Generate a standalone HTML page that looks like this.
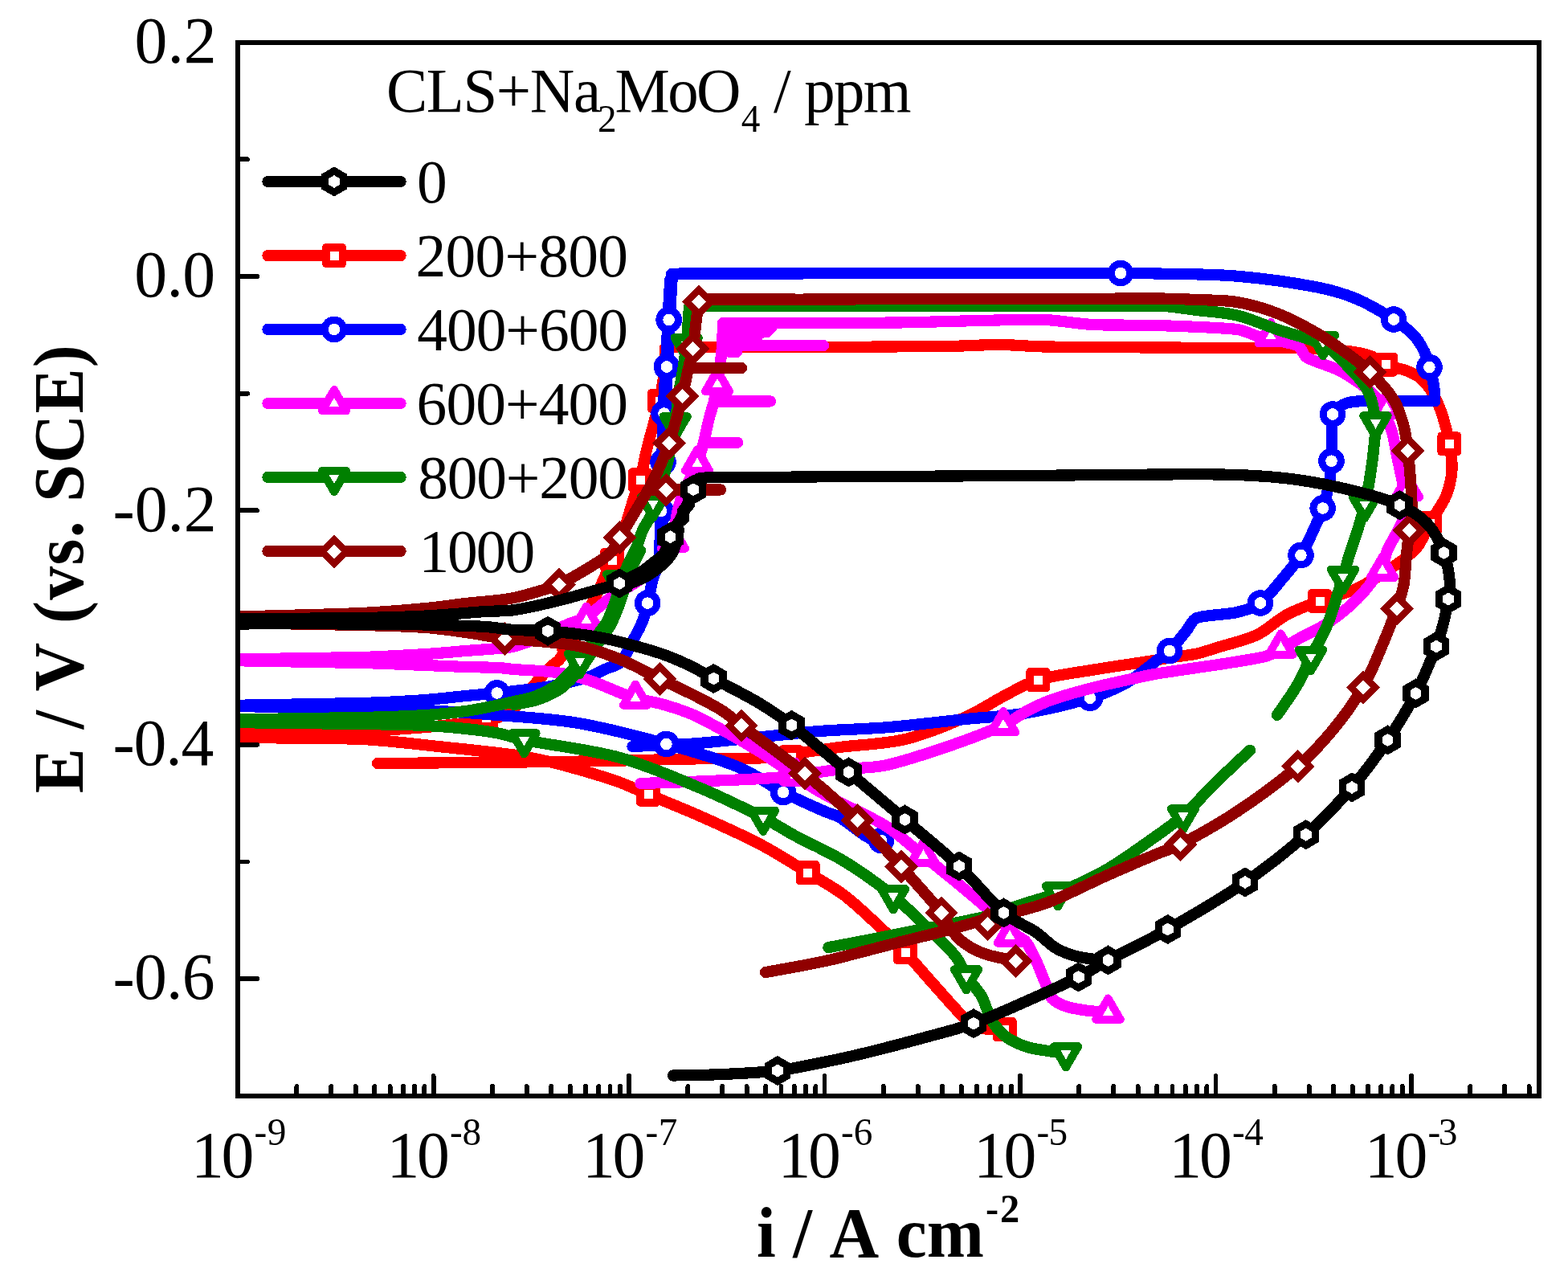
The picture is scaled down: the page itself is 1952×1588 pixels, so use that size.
<!DOCTYPE html>
<html lang="en">
<head>
<meta charset="utf-8">
<title>Polarization curves: CLS + Na2MoO4</title>
<style>
html,body{margin:0;padding:0;background:#fff;}
body{width:1952px;height:1588px;overflow:hidden;font-family:"Liberation Serif","DejaVu Serif",serif;}
svg{display:block;}
</style>
</head>
<body>
<svg width="1952" height="1588" viewBox="0 0 1952 1588" shape-rendering="crispEdges">
<rect width="1952" height="1588" fill="#fff"/>
<defs><clipPath id="pc"><rect x="296.1" y="52.7" width="1619.8" height="1311.1"/></clipPath></defs>
<g clip-path="url(#pc)" shape-rendering="crispEdges">
<path d="M280.0 912.5C336.7 911.7 408.3 911.2 450.0 910.0C476.7 909.2 507.5 906.8 530.0 905.0C548.4 903.5 570.0 901.0 585.0 899.0C596.7 897.4 610.5 896.2 620.0 893.0C628.1 890.3 635.7 885.7 642.0 880.0C649.8 872.9 659.2 859.0 666.6 850.5C673.0 843.1 681.5 834.1 686.6 829.0C689.8 825.8 694.3 823.7 697.0 820.0C701.7 813.5 709.5 799.2 715.0 790.0C720.0 781.7 725.4 773.3 730.0 765.0C734.5 756.8 738.8 747.5 742.5 740.0C745.7 733.4 749.0 726.7 752.0 720.0C755.2 712.8 758.7 703.7 762.0 697.0C764.9 691.1 769.6 686.1 772.0 680.0C775.0 672.2 777.2 660.0 780.0 650.0C782.8 640.0 786.2 628.8 789.0 620.0C791.5 612.4 794.9 605.2 797.0 597.5C799.7 587.5 802.3 571.2 805.0 560.0C807.4 549.9 810.4 540.0 813.0 530.0C815.7 519.8 818.8 509.0 821.0 499.0C823.1 489.4 824.8 479.0 826.0 470.0C827.1 461.7 827.7 451.2 828.0 445.0C828.2 441.0 828.0 437.0 828.0 433.0M828.0 433.0C830.0 432.6 832.0 431.9 834.0 431.9C862.7 431.7 944.7 432.0 1000.0 431.9C1057.7 431.8 1139.2 431.5 1180.0 431.0C1201.7 430.7 1225.0 428.9 1245.0 429.0C1263.4 429.1 1281.7 431.2 1300.0 431.5C1332.5 432.1 1393.3 432.3 1440.0 432.5C1490.0 432.8 1566.7 432.8 1600.0 433.0C1613.3 433.1 1626.7 433.1 1640.0 433.8C1653.3 434.5 1668.9 435.8 1680.0 437.3C1689.0 438.5 1699.0 440.1 1706.5 443.0C1713.3 445.6 1718.3 451.8 1725.0 454.6C1732.2 457.6 1742.5 458.1 1750.0 461.0C1757.1 463.7 1764.3 467.0 1770.0 472.0C1775.8 477.2 1780.9 484.7 1785.0 492.0C1789.3 499.7 1793.1 509.0 1796.0 518.0C1799.2 528.1 1802.6 541.3 1804.5 552.5C1806.3 563.2 1808.2 574.2 1807.5 585.0C1806.8 595.8 1804.3 607.2 1800.0 617.5C1795.4 628.5 1785.8 640.6 1780.0 651.0C1774.7 660.5 1771.3 671.8 1765.0 680.0C1758.8 688.0 1750.3 694.2 1742.0 700.0C1729.5 708.7 1706.5 724.0 1690.0 732.0C1675.1 739.2 1657.7 742.5 1643.0 748.0C1629.1 753.2 1615.0 758.0 1602.0 765.0C1589.0 772.0 1578.5 783.7 1565.0 790.0C1550.5 796.8 1527.5 802.1 1515.0 806.0C1506.7 808.6 1498.5 811.6 1490.0 813.5C1480.8 815.5 1470.0 816.4 1460.0 818.0C1450.0 819.6 1440.0 821.4 1430.0 823.0C1413.8 825.5 1385.3 829.6 1363.0 833.3C1340.1 837.1 1311.0 840.7 1292.5 846.0C1278.2 850.1 1265.3 858.2 1252.0 865.0C1236.9 872.8 1219.4 884.8 1202.0 892.5C1181.2 901.7 1152.9 913.8 1127.0 920.0C1100.8 926.2 1067.8 927.0 1045.0 930.0C1026.6 932.4 1004.2 935.8 990.0 938.0C980.0 939.5 970.1 942.4 960.0 943.0C942.2 944.0 908.7 943.5 883.0 944.0C839.7 944.8 761.0 947.1 700.0 948.0C631.2 949.0 546.7 949.3 470.0 950.0M280.0 918.0C336.7 918.7 404.2 918.0 450.0 920.0C485.1 921.5 526.7 927.2 555.0 930.0C576.7 932.2 603.3 935.0 620.0 937.0C631.7 938.4 643.4 939.8 655.0 942.0C668.3 944.5 685.2 948.0 700.0 952.0C718.7 957.0 749.2 965.9 767.0 972.0C780.7 976.7 793.7 983.1 807.0 988.7C824.2 995.9 849.2 1005.8 870.0 1015.0C893.0 1025.2 922.4 1038.2 945.0 1050.0C965.8 1060.9 987.9 1075.2 1005.7 1086.0C1021.3 1095.5 1037.6 1103.9 1052.0 1115.0C1068.0 1127.3 1089.5 1148.3 1102.0 1160.0C1110.6 1168.0 1119.0 1176.4 1127.0 1185.0C1137.4 1196.2 1152.0 1213.7 1164.5 1227.5C1176.8 1241.2 1191.9 1259.2 1202.0 1268.0C1208.5 1273.7 1216.9 1277.8 1225.0 1280.0C1233.1 1282.2 1242.1 1280.7 1250.7 1281.0" fill="none" stroke="#ff0000" stroke-width="14.2" stroke-linecap="round" stroke-linejoin="round"/>
<rect x="594.8" y="882.8" width="20.5" height="20.5" fill="#fff" stroke="#ff0000" stroke-linejoin="round" stroke-width="9.5"/>
<rect x="697.8" y="787.2" width="20.5" height="20.5" fill="#fff" stroke="#ff0000" stroke-linejoin="round" stroke-width="9.5"/>
<rect x="751.8" y="686.8" width="20.5" height="20.5" fill="#fff" stroke="#ff0000" stroke-linejoin="round" stroke-width="9.5"/>
<rect x="786.8" y="587.2" width="20.5" height="20.5" fill="#fff" stroke="#ff0000" stroke-linejoin="round" stroke-width="9.5"/>
<rect x="810.8" y="488.8" width="20.5" height="20.5" fill="#fff" stroke="#ff0000" stroke-linejoin="round" stroke-width="9.5"/>
<rect x="1714.8" y="443.4" width="20.5" height="20.5" fill="#fff" stroke="#ff0000" stroke-linejoin="round" stroke-width="9.5"/>
<rect x="1794.2" y="542.2" width="20.5" height="20.5" fill="#fff" stroke="#ff0000" stroke-linejoin="round" stroke-width="9.5"/>
<rect x="1769.8" y="640.8" width="20.5" height="20.5" fill="#fff" stroke="#ff0000" stroke-linejoin="round" stroke-width="9.5"/>
<rect x="1632.8" y="737.8" width="20.5" height="20.5" fill="#fff" stroke="#ff0000" stroke-linejoin="round" stroke-width="9.5"/>
<rect x="1282.2" y="835.8" width="20.5" height="20.5" fill="#fff" stroke="#ff0000" stroke-linejoin="round" stroke-width="9.5"/>
<rect x="974.8" y="931.8" width="20.5" height="20.5" fill="#fff" stroke="#ff0000" stroke-linejoin="round" stroke-width="9.5"/>
<rect x="796.8" y="978.5" width="20.5" height="20.5" fill="#fff" stroke="#ff0000" stroke-linejoin="round" stroke-width="9.5"/>
<rect x="995.5" y="1075.8" width="20.5" height="20.5" fill="#fff" stroke="#ff0000" stroke-linejoin="round" stroke-width="9.5"/>
<rect x="1116.8" y="1174.8" width="20.5" height="20.5" fill="#fff" stroke="#ff0000" stroke-linejoin="round" stroke-width="9.5"/>
<rect x="1240.5" y="1270.8" width="20.5" height="20.5" fill="#fff" stroke="#ff0000" stroke-linejoin="round" stroke-width="9.5"/>
<path d="M822.0 690.0C822.7 674.0 823.5 658.0 824.0 642.0C824.6 622.8 825.1 596.2 825.5 575.0C825.9 554.8 825.9 534.2 826.6 514.5C827.3 495.1 829.0 475.8 830.0 456.5C831.0 437.1 831.8 414.9 832.6 398.0C833.3 383.7 834.5 363.3 835.0 355.0C835.1 352.7 835.3 350.3 835.5 348.0" fill="none" stroke="#0000ff" stroke-width="16.5" stroke-linecap="round" stroke-linejoin="round"/>
<path d="M280.0 878.0C336.7 877.0 408.3 876.2 450.0 875.0C476.7 874.3 508.3 872.5 530.0 871.0C546.7 869.8 565.2 867.4 580.0 866.0C592.9 864.8 608.7 863.5 618.7 862.5C625.8 861.8 632.9 860.9 640.0 860.0C650.2 858.8 669.2 856.7 680.0 855.0C688.4 853.7 696.7 852.0 705.0 850.0C713.8 847.9 725.0 845.3 733.0 842.5C740.0 840.0 746.3 836.1 753.0 833.0C759.6 829.9 767.8 829.1 773.0 824.0C778.6 818.5 782.2 808.1 786.5 800.0C791.0 791.5 796.7 781.2 800.0 773.0C802.9 765.8 804.4 758.1 806.2 750.6C808.4 741.8 810.7 728.4 813.0 720.0C814.9 713.2 819.0 707.0 820.0 700.0C821.8 687.0 823.1 661.4 824.0 642.0C824.9 621.2 825.1 596.2 825.5 575.0C825.9 554.8 825.9 534.2 826.6 514.5C827.3 495.1 829.0 475.8 830.0 456.5C831.0 437.1 831.8 414.9 832.6 398.0C833.3 383.7 834.4 364.5 835.0 355.0C835.3 350.3 835.7 345.7 836.0 341.0M836.0 341.0C839.0 340.9 842.0 340.6 845.0 340.6C872.3 340.5 948.3 340.5 1000.0 340.4C1091.7 340.3 1321.7 340.0 1395.0 340.0C1410.0 340.0 1425.0 340.1 1440.0 340.5C1464.2 341.1 1506.8 340.9 1540.0 343.7C1573.3 346.5 1615.0 352.7 1640.0 357.5C1657.1 360.8 1674.2 365.8 1690.0 372.5C1705.8 379.2 1723.3 390.0 1735.0 397.5C1744.0 403.2 1753.7 410.7 1760.0 417.3C1765.5 423.1 1769.8 430.7 1773.0 437.3C1776.0 443.5 1777.6 450.3 1779.5 457.0C1781.5 464.1 1783.8 472.9 1785.0 480.0C1786.0 486.4 1785.9 492.9 1786.4 499.3M1786.4 499.3C1757.6 499.3 1716.1 499.3 1700.0 499.3C1696.7 499.3 1693.3 499.2 1690.0 499.5C1686.2 499.9 1680.9 500.2 1677.0 501.5C1673.2 502.7 1669.5 504.7 1666.5 507.0C1663.6 509.2 1660.0 511.6 1659.2 515.2C1657.8 521.5 1658.3 535.2 1658.0 545.0C1657.7 554.6 1658.0 564.5 1657.5 573.7C1657.0 582.5 1656.6 591.3 1655.0 600.0C1653.2 609.8 1650.0 622.5 1646.7 632.5C1643.5 642.0 1639.2 651.0 1635.0 660.0C1630.5 669.8 1625.8 681.3 1619.5 691.0C1612.8 701.3 1603.4 712.1 1595.0 722.0C1586.7 731.8 1578.2 743.8 1569.0 750.5C1560.6 756.6 1550.1 759.6 1540.0 762.0C1526.8 765.1 1500.5 765.2 1490.0 769.0C1483.5 771.4 1481.4 779.7 1477.0 785.0C1471.3 791.8 1462.2 803.8 1456.0 810.0C1451.3 814.7 1445.4 818.0 1440.0 822.0C1431.0 828.7 1415.7 842.3 1402.0 850.0C1388.2 857.8 1372.6 864.0 1357.0 868.7C1336.2 875.0 1302.8 883.1 1277.0 887.5C1252.2 891.7 1227.0 892.4 1202.0 895.0C1173.7 897.9 1137.3 902.5 1107.0 905.0C1078.1 907.4 1047.0 907.9 1020.0 910.0C994.9 911.9 970.0 915.0 945.0 917.5C920.0 920.0 889.2 923.4 870.0 925.0C856.7 926.1 843.3 926.4 830.0 927.0C816.2 927.7 801.7 928.3 787.5 929.0M280.0 879.0C336.7 879.7 408.3 880.2 450.0 881.0C476.7 881.5 503.4 882.6 530.0 884.0C558.3 885.5 590.0 887.5 620.0 890.0C651.7 892.7 687.0 894.3 720.0 900.0C754.9 906.0 796.2 916.8 829.5 926.0C860.0 934.4 895.8 945.0 920.0 955.0C939.5 963.0 957.2 976.8 975.0 986.0C992.0 994.7 1015.3 1004.8 1027.0 1010.0C1032.9 1012.6 1039.5 1013.7 1045.0 1017.0C1053.3 1022.0 1068.3 1034.5 1077.0 1040.0C1083.3 1044.0 1090.3 1046.7 1097.0 1050.0" fill="none" stroke="#0000ff" stroke-width="14.2" stroke-linecap="round" stroke-linejoin="round"/>
<circle cx="618.7" cy="862.5" r="11.8" fill="#fff" stroke="#0000ff" stroke-width="9"/>
<circle cx="806.2" cy="750.6" r="11.8" fill="#fff" stroke="#0000ff" stroke-width="9"/>
<circle cx="823.0" cy="636.0" r="11.8" fill="#fff" stroke="#0000ff" stroke-width="9"/>
<circle cx="825.5" cy="575.0" r="11.8" fill="#fff" stroke="#0000ff" stroke-width="9"/>
<circle cx="826.6" cy="514.5" r="11.8" fill="#fff" stroke="#0000ff" stroke-width="9"/>
<circle cx="830.0" cy="456.5" r="11.8" fill="#fff" stroke="#0000ff" stroke-width="9"/>
<circle cx="832.6" cy="398.0" r="11.8" fill="#fff" stroke="#0000ff" stroke-width="9"/>
<circle cx="1395.0" cy="340.0" r="11.8" fill="#fff" stroke="#0000ff" stroke-width="9"/>
<circle cx="1735.0" cy="397.5" r="11.8" fill="#fff" stroke="#0000ff" stroke-width="9"/>
<circle cx="1779.5" cy="457.0" r="11.8" fill="#fff" stroke="#0000ff" stroke-width="9"/>
<circle cx="1659.0" cy="515.5" r="11.8" fill="#fff" stroke="#0000ff" stroke-width="9"/>
<circle cx="1657.5" cy="573.7" r="11.8" fill="#fff" stroke="#0000ff" stroke-width="9"/>
<circle cx="1646.7" cy="632.5" r="11.8" fill="#fff" stroke="#0000ff" stroke-width="9"/>
<circle cx="1619.5" cy="691.0" r="11.8" fill="#fff" stroke="#0000ff" stroke-width="9"/>
<circle cx="1569.0" cy="750.5" r="11.8" fill="#fff" stroke="#0000ff" stroke-width="9"/>
<circle cx="1456.0" cy="810.0" r="11.8" fill="#fff" stroke="#0000ff" stroke-width="9"/>
<circle cx="1357.0" cy="868.7" r="11.8" fill="#fff" stroke="#0000ff" stroke-width="9"/>
<circle cx="829.5" cy="926.0" r="11.8" fill="#fff" stroke="#0000ff" stroke-width="9"/>
<circle cx="975.0" cy="986.0" r="11.8" fill="#fff" stroke="#0000ff" stroke-width="9"/>
<circle cx="1097.0" cy="1046.0" r="11.8" fill="#fff" stroke="#0000ff" stroke-width="9"/>
<path d="M280.0 820.5C336.7 819.7 408.3 819.1 450.0 818.0C476.7 817.3 508.3 815.3 530.0 814.0C546.7 813.0 565.0 811.2 580.0 810.0C593.3 809.0 610.0 807.9 620.0 807.0C626.7 806.4 633.5 806.3 640.0 804.5C650.0 801.7 668.9 794.6 680.0 790.0C689.1 786.2 698.3 780.7 706.6 777.0C714.2 773.6 722.9 772.4 730.0 768.0C738.9 762.5 749.5 751.3 760.0 744.0C770.5 736.7 785.2 729.2 793.0 724.0C797.8 720.8 802.3 717.0 806.5 713.0C813.2 706.8 827.8 693.8 833.0 686.6C836.4 681.9 836.8 675.6 838.0 670.0C839.3 663.9 839.8 656.6 841.0 650.0C842.2 643.3 843.2 636.6 845.0 630.0C846.8 623.3 849.2 616.5 852.0 610.0C855.8 601.2 864.0 587.0 868.0 577.0C871.5 568.3 873.6 559.1 876.0 550.0C878.5 540.5 880.8 528.5 883.0 520.0C884.8 512.9 887.3 505.9 889.0 499.0C890.6 492.2 891.9 485.4 893.0 478.5C894.3 470.3 896.0 458.1 897.0 450.0C897.8 443.4 898.6 436.7 899.0 430.0C899.5 422.0 899.7 411.3 900.0 402.0M876.0 550.8L918.0 550.8M889.0 499.4L959.0 499.4M899.0 430.0L1025.0 430.0M900.0 408.0L960.0 408.0L900.0 413.0L955.0 413.0L900.0 418.5L943.0 418.5L900.0 424.0L935.0 424.0L899.0 437.0L917.0 438.0M900.0 402.0C933.3 402.0 966.7 402.1 1000.0 402.0C1036.3 401.9 1081.3 402.0 1118.0 401.5C1152.0 401.0 1189.7 399.6 1220.0 399.0C1246.7 398.5 1276.7 397.2 1300.0 398.0C1320.1 398.7 1339.9 403.0 1360.0 404.0C1383.3 405.2 1413.3 404.1 1440.0 405.0C1470.0 406.0 1518.3 407.5 1540.0 410.0C1550.5 411.2 1559.8 417.3 1570.0 420.0C1582.5 423.3 1605.5 425.8 1615.0 430.0C1620.9 432.6 1621.5 441.7 1627.0 445.0C1635.3 450.0 1654.5 455.0 1665.0 460.0C1673.8 464.2 1682.2 469.2 1690.0 475.0C1698.3 481.2 1708.6 487.9 1715.0 497.0C1722.0 507.0 1727.8 522.5 1732.0 535.0C1736.0 547.0 1737.5 560.3 1740.0 572.0C1742.4 583.0 1745.2 596.2 1747.0 605.0C1748.4 611.7 1751.0 618.2 1751.0 625.0C1751.0 632.0 1749.8 640.1 1747.0 647.0C1743.0 657.0 1731.3 675.3 1727.0 685.0C1724.2 691.4 1724.7 699.1 1721.0 705.0C1714.8 715.0 1701.5 733.2 1690.0 745.0C1678.6 756.7 1663.7 768.0 1652.0 776.0C1642.0 782.8 1629.6 787.7 1620.0 793.0C1611.4 797.8 1602.0 804.0 1594.5 808.0C1588.2 811.4 1581.9 815.2 1575.0 817.0C1564.2 819.8 1544.2 822.7 1530.0 825.0C1516.7 827.2 1503.3 829.0 1490.0 831.0C1475.0 833.2 1452.2 836.5 1440.0 838.5C1432.1 839.8 1424.3 841.6 1416.5 843.3C1403.7 846.1 1380.7 850.8 1363.0 855.3C1345.2 859.8 1323.8 865.8 1310.0 870.6C1299.6 874.2 1289.7 878.9 1280.0 884.0C1269.8 889.3 1260.0 897.6 1249.0 902.5C1231.8 910.2 1201.3 921.7 1177.0 930.0C1152.5 938.3 1124.0 947.9 1102.0 952.5C1083.3 956.4 1064.0 955.3 1045.0 957.5C1023.0 960.0 995.1 965.3 970.0 967.5C940.8 970.0 898.8 971.2 870.0 972.5C845.8 973.6 821.7 974.2 797.5 975.0M280.0 822.0C336.7 823.0 408.3 824.0 450.0 825.0C476.7 825.6 508.3 827.2 530.0 828.0C546.7 828.6 565.0 829.5 580.0 830.0C593.3 830.4 610.0 830.5 620.0 831.0C626.7 831.3 633.3 832.5 640.0 833.0C652.2 834.0 677.5 834.8 693.0 837.0C706.6 839.0 719.9 842.3 733.0 846.5C746.3 850.8 763.3 858.8 773.0 862.5C778.9 864.8 784.8 867.3 791.0 869.0C799.9 871.4 814.9 873.6 826.5 877.0C839.0 880.7 853.5 884.9 866.0 891.0C885.8 900.7 919.3 919.3 945.0 935.0C970.6 950.7 994.1 969.7 1020.0 985.0C1046.2 1000.4 1080.4 1014.2 1102.0 1027.5C1119.2 1038.1 1133.7 1052.4 1149.5 1065.0C1166.2 1078.3 1187.0 1095.0 1202.0 1107.5C1214.7 1118.1 1229.5 1130.9 1239.5 1140.0C1247.3 1147.1 1255.8 1156.7 1262.0 1162.0C1266.6 1165.9 1273.2 1167.4 1277.0 1172.0C1281.6 1177.5 1285.8 1187.1 1289.5 1195.0C1293.7 1203.8 1298.7 1217.1 1302.0 1225.0C1304.5 1230.8 1305.3 1237.9 1309.5 1242.5C1313.7 1247.1 1320.7 1250.3 1327.0 1252.5C1334.1 1255.0 1343.6 1256.3 1352.0 1257.5C1360.8 1258.8 1370.3 1259.2 1379.5 1260.0" fill="none" stroke="#ff00ff" stroke-width="14.2" stroke-linecap="round" stroke-linejoin="round"/>
<polygon points="730.0,754.5 745.1,780.7 714.9,780.7" fill="#fff" stroke="#ff00ff" stroke-linejoin="round" stroke-width="10"/>
<polygon points="838.0,656.5 853.1,682.7 822.9,682.7" fill="#fff" stroke="#ff00ff" stroke-linejoin="round" stroke-width="10"/>
<polygon points="868.0,559.5 883.1,585.7 852.9,585.7" fill="#fff" stroke="#ff00ff" stroke-linejoin="round" stroke-width="10"/>
<polygon points="893.0,461.0 908.1,487.2 877.9,487.2" fill="#fff" stroke="#ff00ff" stroke-linejoin="round" stroke-width="10"/>
<polygon points="1582.0,401.0 1597.2,427.2 1566.8,427.2" fill="#fff" stroke="#ff00ff" stroke-linejoin="round" stroke-width="10"/>
<polygon points="1726.0,490.5 1741.2,516.7 1710.8,516.7" fill="#fff" stroke="#ff00ff" stroke-linejoin="round" stroke-width="10"/>
<polygon points="1752.0,592.5 1767.2,618.7 1736.8,618.7" fill="#fff" stroke="#ff00ff" stroke-linejoin="round" stroke-width="10"/>
<polygon points="1721.0,692.5 1736.2,718.7 1705.8,718.7" fill="#fff" stroke="#ff00ff" stroke-linejoin="round" stroke-width="10"/>
<polygon points="1594.5,788.5 1609.7,814.7 1579.3,814.7" fill="#fff" stroke="#ff00ff" stroke-linejoin="round" stroke-width="10"/>
<polygon points="1249.0,885.0 1264.2,911.2 1233.8,911.2" fill="#fff" stroke="#ff00ff" stroke-linejoin="round" stroke-width="10"/>
<polygon points="791.0,851.5 806.1,877.7 775.9,877.7" fill="#fff" stroke="#ff00ff" stroke-linejoin="round" stroke-width="10"/>
<polygon points="990.0,947.5 1005.1,973.7 974.9,973.7" fill="#fff" stroke="#ff00ff" stroke-linejoin="round" stroke-width="10"/>
<polygon points="1149.5,1047.5 1164.7,1073.7 1134.3,1073.7" fill="#fff" stroke="#ff00ff" stroke-linejoin="round" stroke-width="10"/>
<polygon points="1257.0,1147.5 1272.2,1173.7 1241.8,1173.7" fill="#fff" stroke="#ff00ff" stroke-linejoin="round" stroke-width="10"/>
<polygon points="1379.5,1242.5 1394.7,1268.7 1364.3,1268.7" fill="#fff" stroke="#ff00ff" stroke-linejoin="round" stroke-width="10"/>
<path d="M280.0 895.5C336.7 894.7 408.3 893.9 450.0 893.0C476.7 892.4 508.3 891.3 530.0 890.0C546.7 889.0 565.0 887.1 580.0 885.0C593.4 883.1 610.0 879.5 620.0 877.5C626.7 876.2 633.3 874.6 640.0 873.0C647.8 871.2 658.1 869.7 666.6 866.5C675.4 863.2 686.3 857.4 693.0 853.0C698.2 849.5 702.3 844.5 706.6 840.0C711.4 834.9 717.4 828.7 722.0 822.5C728.6 813.6 740.8 794.8 746.5 786.5C749.6 782.0 753.5 777.9 756.0 773.0C759.3 766.4 763.3 755.5 766.5 746.6C770.5 735.5 775.6 717.7 780.0 706.6C783.6 697.4 789.7 687.8 793.0 680.0C795.8 673.5 797.1 666.4 800.0 660.0C803.0 653.3 808.2 647.1 811.0 640.0C814.3 631.7 816.8 620.0 820.0 610.0C823.2 600.0 827.3 590.0 830.0 580.0C832.6 570.1 834.2 559.2 836.0 550.0C837.6 541.7 839.3 533.4 840.6 525.0C842.1 515.0 843.3 501.6 845.0 490.0C846.7 478.3 849.3 465.8 851.0 455.0C852.5 445.0 854.0 435.0 855.0 425.0C856.0 415.0 856.5 402.2 857.0 395.0C857.3 390.7 857.7 386.3 858.0 382.0M640.0 877.0C649.3 875.0 658.9 874.0 668.0 871.0C677.2 868.0 688.0 863.2 695.0 859.0C700.7 855.6 705.3 850.7 710.0 846.0C715.2 840.8 721.2 834.5 726.0 828.0C732.7 819.0 744.3 800.3 750.0 792.0C753.2 787.3 757.3 783.1 760.0 778.0C763.5 771.3 767.8 760.8 771.0 752.0C775.0 741.0 779.7 723.2 784.0 712.0C787.6 702.7 792.7 694.0 797.0 685.0M858.0 382.0C860.0 381.7 862.0 381.0 864.0 381.0C887.7 380.8 954.7 381.0 1000.0 381.0C1096.0 380.9 1358.3 379.7 1440.0 380.5C1456.8 380.7 1473.4 384.0 1490.0 386.0C1506.7 388.0 1523.7 388.6 1540.0 392.5C1556.7 396.5 1573.3 404.3 1590.0 410.0C1608.3 416.2 1635.5 422.5 1650.0 430.0C1660.9 435.6 1668.6 446.1 1677.0 455.0C1685.7 464.2 1696.2 473.8 1702.0 485.0C1707.8 496.2 1710.7 510.0 1712.0 522.5C1713.3 534.9 1711.2 547.6 1710.0 560.0C1708.8 572.4 1706.8 585.8 1705.0 597.0C1703.3 607.2 1701.4 617.4 1699.0 627.5C1696.5 638.0 1693.2 649.6 1690.0 660.0C1686.9 670.1 1683.0 680.4 1680.0 690.0C1677.1 699.1 1674.9 708.4 1672.0 717.5C1667.4 732.1 1659.2 760.8 1652.5 777.5C1646.9 791.4 1638.2 805.0 1632.0 817.5C1626.2 829.1 1621.5 841.3 1615.0 852.5C1608.0 864.6 1598.3 877.5 1590.0 890.0M1556.0 933.7C1542.3 946.6 1528.4 959.3 1515.0 972.5C1501.2 986.0 1485.5 1003.8 1473.0 1015.0C1462.7 1024.2 1451.3 1032.1 1440.0 1040.0C1424.0 1051.2 1397.5 1070.7 1377.0 1082.5C1357.8 1093.6 1333.7 1104.1 1317.0 1111.0C1304.1 1116.4 1290.3 1119.6 1277.0 1124.0C1262.0 1128.9 1243.7 1136.0 1227.0 1140.5C1210.6 1144.9 1190.7 1148.2 1177.0 1151.0C1166.4 1153.1 1155.7 1154.9 1145.0 1157.0C1129.5 1160.0 1102.6 1165.5 1083.7 1169.2C1066.3 1172.6 1048.8 1175.8 1031.4 1179.1M280.0 899.0C336.7 899.7 408.3 900.3 450.0 901.0C476.7 901.4 508.3 902.0 530.0 903.0C546.7 903.8 565.0 905.4 580.0 907.0C593.4 908.4 607.9 910.2 620.0 912.5C631.0 914.6 641.5 918.8 652.5 921.0C677.5 926.0 733.8 932.7 770.0 942.5C804.4 951.8 840.0 967.5 870.0 980.0C897.2 991.3 930.1 1007.5 950.0 1017.5C963.5 1024.3 976.2 1032.8 989.5 1040.0C1006.5 1049.2 1032.0 1060.2 1052.0 1072.5C1072.4 1085.0 1095.3 1101.7 1112.0 1115.0C1126.3 1126.4 1139.1 1140.0 1152.0 1152.5C1164.7 1164.8 1181.0 1179.6 1189.5 1190.0C1195.5 1197.3 1197.8 1207.1 1203.0 1215.0C1208.4 1223.3 1216.8 1230.9 1222.0 1240.0C1227.2 1249.2 1229.5 1261.7 1234.5 1270.0C1239.1 1277.6 1245.0 1284.6 1252.0 1290.0C1259.1 1295.4 1268.7 1299.6 1277.0 1302.5C1285.0 1305.3 1293.7 1306.1 1302.0 1307.5C1310.3 1308.9 1318.7 1309.8 1327.0 1311.0" fill="none" stroke="#008000" stroke-width="14.2" stroke-linecap="round" stroke-linejoin="round"/>
<polygon points="722.0,840.0 737.1,813.8 706.9,813.8" fill="#fff" stroke="#008000" stroke-linejoin="round" stroke-width="10"/>
<polygon points="770.0,740.5 785.1,714.3 754.9,714.3" fill="#fff" stroke="#008000" stroke-linejoin="round" stroke-width="10"/>
<polygon points="813.0,644.5 828.1,618.3 797.9,618.3" fill="#fff" stroke="#008000" stroke-linejoin="round" stroke-width="10"/>
<polygon points="840.6,544.5 855.8,518.3 825.5,518.3" fill="#fff" stroke="#008000" stroke-linejoin="round" stroke-width="10"/>
<polygon points="854.6,446.5 869.8,420.3 839.5,420.3" fill="#fff" stroke="#008000" stroke-linejoin="round" stroke-width="10"/>
<polygon points="1647.0,443.2 1662.2,417.0 1631.8,417.0" fill="#fff" stroke="#008000" stroke-linejoin="round" stroke-width="10"/>
<polygon points="1712.5,543.5 1727.7,517.3 1697.3,517.3" fill="#fff" stroke="#008000" stroke-linejoin="round" stroke-width="10"/>
<polygon points="1699.0,645.0 1714.2,618.8 1683.8,618.8" fill="#fff" stroke="#008000" stroke-linejoin="round" stroke-width="10"/>
<polygon points="1672.0,735.0 1687.2,708.8 1656.8,708.8" fill="#fff" stroke="#008000" stroke-linejoin="round" stroke-width="10"/>
<polygon points="1632.0,835.0 1647.2,808.8 1616.8,808.8" fill="#fff" stroke="#008000" stroke-linejoin="round" stroke-width="10"/>
<polygon points="1473.0,1032.5 1488.2,1006.3 1457.8,1006.3" fill="#fff" stroke="#008000" stroke-linejoin="round" stroke-width="10"/>
<polygon points="1317.0,1128.5 1332.2,1102.3 1301.8,1102.3" fill="#fff" stroke="#008000" stroke-linejoin="round" stroke-width="10"/>
<polygon points="652.5,938.5 667.6,912.3 637.4,912.3" fill="#fff" stroke="#008000" stroke-linejoin="round" stroke-width="10"/>
<polygon points="950.0,1035.0 965.1,1008.8 934.9,1008.8" fill="#fff" stroke="#008000" stroke-linejoin="round" stroke-width="10"/>
<polygon points="1112.0,1132.5 1127.2,1106.3 1096.8,1106.3" fill="#fff" stroke="#008000" stroke-linejoin="round" stroke-width="10"/>
<polygon points="1203.0,1232.5 1218.2,1206.3 1187.8,1206.3" fill="#fff" stroke="#008000" stroke-linejoin="round" stroke-width="10"/>
<polygon points="1327.0,1328.5 1342.2,1302.3 1311.8,1302.3" fill="#fff" stroke="#008000" stroke-linejoin="round" stroke-width="10"/>
<path d="M280.0 768.0C336.7 766.3 408.3 764.8 450.0 763.0C476.7 761.8 508.3 759.0 530.0 757.0C546.7 755.5 565.0 752.7 580.0 751.0C593.3 749.5 610.0 748.2 620.0 747.0C626.7 746.2 633.4 745.4 640.0 744.0C648.3 742.2 660.7 738.8 670.0 736.0C678.8 733.4 687.7 731.2 696.0 727.3C706.5 722.4 722.3 713.1 733.0 706.6C742.3 700.9 753.6 694.3 760.0 688.0C765.2 682.8 767.5 675.3 771.2 669.0C779.7 654.7 800.7 621.6 811.0 602.0C819.6 585.7 826.9 568.7 833.0 551.3C839.4 533.1 845.3 508.6 849.3 493.0C852.3 481.4 854.8 467.8 857.0 458.0C858.8 450.0 861.3 442.1 862.6 434.0C864.2 424.3 865.4 409.8 866.6 400.0C867.6 391.8 868.8 383.5 869.9 375.3M857.0 457.9L923.0 457.9M808.0 609.5L897.0 609.5M869.9 375.3C873.3 374.4 876.5 372.7 880.0 372.6C901.7 372.2 960.0 372.7 1000.0 372.6C1093.3 372.4 1358.3 371.4 1440.0 371.5C1456.7 371.5 1473.3 372.3 1490.0 373.0C1506.7 373.8 1523.5 373.2 1540.0 376.0C1556.7 378.8 1573.9 383.7 1590.0 390.0C1606.7 396.5 1625.5 406.7 1640.0 415.0C1652.9 422.4 1666.0 432.0 1677.0 440.0C1686.9 447.2 1697.0 454.4 1705.7 463.0C1715.4 472.6 1728.0 486.3 1735.0 497.5C1741.1 507.3 1744.6 519.4 1747.5 530.0C1750.3 540.1 1751.2 550.6 1752.5 561.0C1753.9 572.2 1755.2 585.3 1756.0 597.5C1756.8 609.8 1757.8 624.6 1757.5 635.0C1757.3 643.4 1755.5 651.7 1754.5 660.0C1753.4 669.2 1752.0 680.0 1751.0 690.0C1749.8 701.2 1749.5 716.2 1747.5 727.5C1745.6 737.8 1742.2 747.7 1738.7 757.5C1734.1 770.4 1726.7 789.4 1720.0 805.0C1713.0 821.3 1706.1 839.5 1696.7 855.5C1686.7 872.6 1673.5 891.1 1660.0 907.5C1646.5 923.9 1631.9 939.8 1615.7 953.7C1595.7 970.8 1564.4 993.8 1540.0 1010.0C1517.4 1025.1 1486.2 1042.2 1469.5 1051.0C1460.0 1056.0 1449.4 1058.8 1439.5 1063.0C1424.1 1069.5 1397.7 1080.8 1377.0 1090.0C1354.1 1100.2 1326.6 1115.1 1302.0 1124.0C1278.5 1132.5 1250.5 1137.8 1229.5 1143.5C1211.6 1148.4 1193.9 1153.8 1176.0 1158.5C1156.8 1163.6 1134.6 1168.7 1114.0 1174.0C1090.9 1179.9 1056.6 1189.1 1037.6 1193.7C1025.2 1196.7 1012.6 1199.1 1000.0 1201.5C985.9 1204.2 968.7 1207.2 953.0 1210.0M280.0 775.0C336.7 776.0 408.3 777.0 450.0 778.0C476.7 778.6 508.3 779.5 530.0 781.0C546.7 782.2 563.5 784.7 580.0 787.0C596.3 789.3 616.5 793.4 628.7 795.0C636.7 796.0 644.9 795.7 653.0 796.5C668.2 798.0 700.0 799.9 720.0 804.0C738.2 807.7 756.0 814.2 773.0 821.0C789.8 827.8 806.2 837.4 821.8 845.0C836.6 852.2 853.4 859.8 866.4 866.5C877.8 872.3 890.6 878.9 900.0 885.0C908.2 890.3 915.3 897.1 923.0 903.0C940.0 915.9 977.6 942.8 1001.7 962.5C1024.4 981.1 1047.5 1001.6 1067.5 1021.0C1086.5 1039.4 1104.6 1059.5 1122.0 1078.7C1139.0 1097.5 1161.5 1122.8 1172.0 1136.0C1177.3 1142.7 1180.0 1151.5 1185.0 1158.0C1189.9 1164.4 1195.4 1170.4 1202.0 1175.0C1209.0 1179.9 1218.2 1184.5 1227.0 1187.5C1237.4 1191.0 1252.0 1193.2 1264.5 1196.0" fill="none" stroke="#900000" stroke-width="14.2" stroke-linecap="round" stroke-linejoin="round"/>
<polygon points="696.0,712.3 711.0,727.3 696.0,742.3 681.0,727.3" fill="#fff" stroke="#900000" stroke-linejoin="miter" stroke-miterlimit="6" stroke-width="8.3"/>
<polygon points="771.2,654.0 786.2,669.0 771.2,684.0 756.2,669.0" fill="#fff" stroke="#900000" stroke-linejoin="miter" stroke-miterlimit="6" stroke-width="8.3"/>
<polygon points="829.3,594.8 844.3,609.8 829.3,624.8 814.3,609.8" fill="#fff" stroke="#900000" stroke-linejoin="miter" stroke-miterlimit="6" stroke-width="8.3"/>
<polygon points="833.0,536.3 848.0,551.3 833.0,566.3 818.0,551.3" fill="#fff" stroke="#900000" stroke-linejoin="miter" stroke-miterlimit="6" stroke-width="8.3"/>
<polygon points="849.3,478.1 864.3,493.1 849.3,508.1 834.3,493.1" fill="#fff" stroke="#900000" stroke-linejoin="miter" stroke-miterlimit="6" stroke-width="8.3"/>
<polygon points="862.6,418.9 877.6,433.9 862.6,448.9 847.6,433.9" fill="#fff" stroke="#900000" stroke-linejoin="miter" stroke-miterlimit="6" stroke-width="8.3"/>
<polygon points="869.9,360.3 884.9,375.3 869.9,390.3 854.9,375.3" fill="#fff" stroke="#900000" stroke-linejoin="miter" stroke-miterlimit="6" stroke-width="8.3"/>
<polygon points="1705.7,448.0 1720.7,463.0 1705.7,478.0 1690.7,463.0" fill="#fff" stroke="#900000" stroke-linejoin="miter" stroke-miterlimit="6" stroke-width="8.3"/>
<polygon points="1752.5,546.0 1767.5,561.0 1752.5,576.0 1737.5,561.0" fill="#fff" stroke="#900000" stroke-linejoin="miter" stroke-miterlimit="6" stroke-width="8.3"/>
<polygon points="1754.5,645.0 1769.5,660.0 1754.5,675.0 1739.5,660.0" fill="#fff" stroke="#900000" stroke-linejoin="miter" stroke-miterlimit="6" stroke-width="8.3"/>
<polygon points="1738.7,742.5 1753.7,757.5 1738.7,772.5 1723.7,757.5" fill="#fff" stroke="#900000" stroke-linejoin="miter" stroke-miterlimit="6" stroke-width="8.3"/>
<polygon points="1696.7,840.5 1711.7,855.5 1696.7,870.5 1681.7,855.5" fill="#fff" stroke="#900000" stroke-linejoin="miter" stroke-miterlimit="6" stroke-width="8.3"/>
<polygon points="1615.7,938.7 1630.7,953.7 1615.7,968.7 1600.7,953.7" fill="#fff" stroke="#900000" stroke-linejoin="miter" stroke-miterlimit="6" stroke-width="8.3"/>
<polygon points="1469.5,1036.0 1484.5,1051.0 1469.5,1066.0 1454.5,1051.0" fill="#fff" stroke="#900000" stroke-linejoin="miter" stroke-miterlimit="6" stroke-width="8.3"/>
<polygon points="1229.5,1135.0 1244.5,1150.0 1229.5,1165.0 1214.5,1150.0" fill="#fff" stroke="#900000" stroke-linejoin="miter" stroke-miterlimit="6" stroke-width="8.3"/>
<polygon points="628.7,780.0 643.7,795.0 628.7,810.0 613.7,795.0" fill="#fff" stroke="#900000" stroke-linejoin="miter" stroke-miterlimit="6" stroke-width="8.3"/>
<polygon points="821.8,830.0 836.8,845.0 821.8,860.0 806.8,845.0" fill="#fff" stroke="#900000" stroke-linejoin="miter" stroke-miterlimit="6" stroke-width="8.3"/>
<polygon points="923.0,888.0 938.0,903.0 923.0,918.0 908.0,903.0" fill="#fff" stroke="#900000" stroke-linejoin="miter" stroke-miterlimit="6" stroke-width="8.3"/>
<polygon points="1001.7,947.5 1016.7,962.5 1001.7,977.5 986.7,962.5" fill="#fff" stroke="#900000" stroke-linejoin="miter" stroke-miterlimit="6" stroke-width="8.3"/>
<polygon points="1067.5,1006.0 1082.5,1021.0 1067.5,1036.0 1052.5,1021.0" fill="#fff" stroke="#900000" stroke-linejoin="miter" stroke-miterlimit="6" stroke-width="8.3"/>
<polygon points="1122.0,1063.7 1137.0,1078.7 1122.0,1093.7 1107.0,1078.7" fill="#fff" stroke="#900000" stroke-linejoin="miter" stroke-miterlimit="6" stroke-width="8.3"/>
<polygon points="1172.0,1121.0 1187.0,1136.0 1172.0,1151.0 1157.0,1136.0" fill="#fff" stroke="#900000" stroke-linejoin="miter" stroke-miterlimit="6" stroke-width="8.3"/>
<polygon points="1264.5,1181.0 1279.5,1196.0 1264.5,1211.0 1249.5,1196.0" fill="#fff" stroke="#900000" stroke-linejoin="miter" stroke-miterlimit="6" stroke-width="8.3"/>
<path d="M280.0 770.5C336.7 770.0 408.3 769.7 450.0 769.0C476.7 768.6 504.2 767.8 530.0 766.5C555.0 765.2 586.7 762.2 605.0 761.0C616.7 760.2 628.4 760.9 640.0 759.2C654.7 757.0 675.5 752.3 693.0 748.0C710.8 743.7 733.5 737.0 746.5 733.3C754.8 731.0 764.6 728.5 771.2 726.0C776.4 724.0 781.2 720.6 786.0 718.0C790.7 715.5 795.6 713.4 800.0 710.5C804.5 707.6 808.8 703.9 813.0 700.5C817.4 696.9 823.2 693.9 826.5 689.0C830.1 683.6 831.3 675.0 834.5 668.3C838.4 660.1 845.3 649.7 850.0 640.0C854.8 630.2 860.5 616.0 863.2 609.3C864.4 606.3 864.9 602.3 866.0 600.0C866.9 598.2 868.1 596.2 870.0 595.5C872.3 594.6 876.7 594.8 880.0 594.4M880.0 594.4C920.0 594.1 960.0 593.7 1000.0 593.5C1065.0 593.1 1196.7 592.5 1270.0 592.0C1326.7 591.6 1395.0 590.7 1440.0 590.5C1473.3 590.4 1510.8 589.9 1540.0 591.0C1565.1 591.9 1590.2 593.5 1615.0 597.0C1640.0 600.5 1668.8 606.7 1690.0 612.0C1707.8 616.4 1727.9 622.0 1742.5 628.7C1755.3 634.6 1768.3 642.6 1777.5 652.5C1786.7 662.4 1792.9 675.9 1797.5 688.0C1802.0 699.8 1804.1 715.4 1805.0 725.0C1805.7 731.8 1804.1 738.7 1803.0 745.5C1801.7 753.8 1799.5 765.3 1797.0 775.0C1794.5 784.8 1791.8 794.9 1788.0 804.5C1782.2 819.2 1772.3 844.1 1762.5 863.0C1752.4 882.4 1740.2 902.3 1727.5 921.0C1714.2 940.5 1699.1 961.4 1683.0 980.0C1666.0 999.6 1646.2 1020.6 1625.7 1038.7C1603.5 1058.4 1576.4 1079.9 1550.0 1098.0C1521.3 1117.7 1482.1 1140.4 1453.7 1156.6C1429.5 1170.4 1398.0 1185.1 1379.5 1195.0C1367.0 1201.7 1355.3 1209.7 1342.7 1216.0C1326.1 1224.3 1301.1 1235.7 1280.0 1245.0C1258.2 1254.6 1233.7 1266.0 1212.0 1273.7C1191.8 1280.9 1168.3 1286.4 1150.0 1291.5C1134.1 1295.9 1117.0 1300.4 1102.0 1304.2C1088.0 1307.8 1074.1 1311.3 1060.0 1314.5C1044.7 1318.0 1025.3 1322.0 1010.0 1325.0C996.0 1327.7 982.1 1331.0 968.0 1332.5C949.7 1334.5 921.7 1336.0 900.0 1337.0C879.3 1338.0 858.7 1338.0 838.0 1338.5M783.0 727.0C790.3 723.7 798.5 720.7 805.0 717.0C811.0 713.6 816.8 709.5 822.0 705.0C827.2 700.5 832.7 694.8 836.0 690.0C838.9 685.8 840.0 680.7 842.0 676.0M838.0 668.0L845.0 660.0L843.0 652.0L851.0 646.0L850.0 636.0L858.0 628.0L857.0 620.0L864.0 612.0M280.0 776.0C336.7 776.2 408.3 776.2 450.0 776.5C476.7 776.7 504.2 776.9 530.0 777.5C555.0 778.1 586.7 778.9 605.0 780.0C616.7 780.7 628.3 783.2 640.0 784.0C652.8 784.9 668.0 784.0 682.0 785.2C699.8 786.7 726.8 789.7 746.5 793.2C764.6 796.5 786.1 802.7 800.0 806.5C810.1 809.3 820.2 812.3 830.0 816.0C840.0 819.8 850.3 824.2 860.0 829.0C869.7 833.7 878.9 839.4 888.4 844.5C902.6 852.2 928.8 865.3 945.0 875.0C959.0 883.4 972.6 892.5 985.5 902.5C1004.1 916.8 1033.0 941.4 1056.5 961.0C1079.9 980.5 1103.6 1000.5 1126.5 1020.0C1149.1 1039.2 1173.5 1058.7 1194.0 1078.0C1213.5 1096.4 1233.6 1122.3 1249.5 1136.0C1261.3 1146.1 1278.7 1152.7 1289.5 1160.0C1298.3 1166.0 1306.2 1175.0 1314.5 1180.0C1322.2 1184.6 1331.2 1187.7 1339.5 1190.0C1347.6 1192.3 1357.8 1193.2 1364.5 1194.0C1369.5 1194.6 1374.5 1194.7 1379.5 1195.0" fill="none" stroke="#000000" stroke-width="14.2" stroke-linecap="round" stroke-linejoin="round"/>
<polygon points="771.2,712.8 782.7,719.4 782.7,732.6 771.2,739.2 759.7,732.6 759.7,719.4" fill="#fff" stroke="#000000" stroke-linejoin="miter" stroke-miterlimit="6" stroke-width="9.2"/>
<polygon points="834.5,655.0 846.0,661.7 846.0,674.9 834.5,681.5 823.0,674.9 823.0,661.7" fill="#fff" stroke="#000000" stroke-linejoin="miter" stroke-miterlimit="6" stroke-width="9.2"/>
<polygon points="863.2,596.0 874.7,602.7 874.7,615.9 863.2,622.5 851.7,615.9 851.7,602.7" fill="#fff" stroke="#000000" stroke-linejoin="miter" stroke-miterlimit="6" stroke-width="9.2"/>
<polygon points="1742.5,615.5 1754.0,622.1 1754.0,635.3 1742.5,642.0 1731.0,635.3 1731.0,622.1" fill="#fff" stroke="#000000" stroke-linejoin="miter" stroke-miterlimit="6" stroke-width="9.2"/>
<polygon points="1797.5,674.8 1809.0,681.4 1809.0,694.6 1797.5,701.2 1786.0,694.6 1786.0,681.4" fill="#fff" stroke="#000000" stroke-linejoin="miter" stroke-miterlimit="6" stroke-width="9.2"/>
<polygon points="1803.0,732.2 1814.5,738.9 1814.5,752.1 1803.0,758.8 1791.5,752.1 1791.5,738.9" fill="#fff" stroke="#000000" stroke-linejoin="miter" stroke-miterlimit="6" stroke-width="9.2"/>
<polygon points="1788.0,791.2 1799.5,797.9 1799.5,811.1 1788.0,817.8 1776.5,811.1 1776.5,797.9" fill="#fff" stroke="#000000" stroke-linejoin="miter" stroke-miterlimit="6" stroke-width="9.2"/>
<polygon points="1762.5,849.8 1774.0,856.4 1774.0,869.6 1762.5,876.2 1751.0,869.6 1751.0,856.4" fill="#fff" stroke="#000000" stroke-linejoin="miter" stroke-miterlimit="6" stroke-width="9.2"/>
<polygon points="1727.5,907.8 1739.0,914.4 1739.0,927.6 1727.5,934.2 1716.0,927.6 1716.0,914.4" fill="#fff" stroke="#000000" stroke-linejoin="miter" stroke-miterlimit="6" stroke-width="9.2"/>
<polygon points="1683.0,966.8 1694.5,973.4 1694.5,986.6 1683.0,993.2 1671.5,986.6 1671.5,973.4" fill="#fff" stroke="#000000" stroke-linejoin="miter" stroke-miterlimit="6" stroke-width="9.2"/>
<polygon points="1625.7,1025.5 1637.2,1032.1 1637.2,1045.3 1625.7,1052.0 1614.2,1045.3 1614.2,1032.1" fill="#fff" stroke="#000000" stroke-linejoin="miter" stroke-miterlimit="6" stroke-width="9.2"/>
<polygon points="1550.0,1084.8 1561.5,1091.4 1561.5,1104.6 1550.0,1111.2 1538.5,1104.6 1538.5,1091.4" fill="#fff" stroke="#000000" stroke-linejoin="miter" stroke-miterlimit="6" stroke-width="9.2"/>
<polygon points="1453.7,1143.3 1465.2,1150.0 1465.2,1163.2 1453.7,1169.8 1442.2,1163.2 1442.2,1150.0" fill="#fff" stroke="#000000" stroke-linejoin="miter" stroke-miterlimit="6" stroke-width="9.2"/>
<polygon points="1379.5,1181.8 1391.0,1188.4 1391.0,1201.6 1379.5,1208.2 1368.0,1201.6 1368.0,1188.4" fill="#fff" stroke="#000000" stroke-linejoin="miter" stroke-miterlimit="6" stroke-width="9.2"/>
<polygon points="1342.7,1202.8 1354.2,1209.4 1354.2,1222.6 1342.7,1229.2 1331.2,1222.6 1331.2,1209.4" fill="#fff" stroke="#000000" stroke-linejoin="miter" stroke-miterlimit="6" stroke-width="9.2"/>
<polygon points="1212.0,1260.5 1223.5,1267.1 1223.5,1280.3 1212.0,1287.0 1200.5,1280.3 1200.5,1267.1" fill="#fff" stroke="#000000" stroke-linejoin="miter" stroke-miterlimit="6" stroke-width="9.2"/>
<polygon points="968.0,1319.2 979.5,1325.9 979.5,1339.1 968.0,1345.8 956.5,1339.1 956.5,1325.9" fill="#fff" stroke="#000000" stroke-linejoin="miter" stroke-miterlimit="6" stroke-width="9.2"/>
<polygon points="682.0,772.0 693.5,778.6 693.5,791.8 682.0,798.5 670.5,791.8 670.5,778.6" fill="#fff" stroke="#000000" stroke-linejoin="miter" stroke-miterlimit="6" stroke-width="9.2"/>
<polygon points="888.4,831.2 899.9,837.9 899.9,851.1 888.4,857.8 876.9,851.1 876.9,837.9" fill="#fff" stroke="#000000" stroke-linejoin="miter" stroke-miterlimit="6" stroke-width="9.2"/>
<polygon points="985.5,889.2 997.0,895.9 997.0,909.1 985.5,915.8 974.0,909.1 974.0,895.9" fill="#fff" stroke="#000000" stroke-linejoin="miter" stroke-miterlimit="6" stroke-width="9.2"/>
<polygon points="1056.5,947.8 1068.0,954.4 1068.0,967.6 1056.5,974.2 1045.0,967.6 1045.0,954.4" fill="#fff" stroke="#000000" stroke-linejoin="miter" stroke-miterlimit="6" stroke-width="9.2"/>
<polygon points="1126.5,1006.8 1138.0,1013.4 1138.0,1026.6 1126.5,1033.2 1115.0,1026.6 1115.0,1013.4" fill="#fff" stroke="#000000" stroke-linejoin="miter" stroke-miterlimit="6" stroke-width="9.2"/>
<polygon points="1194.0,1064.8 1205.5,1071.4 1205.5,1084.6 1194.0,1091.2 1182.5,1084.6 1182.5,1071.4" fill="#fff" stroke="#000000" stroke-linejoin="miter" stroke-miterlimit="6" stroke-width="9.2"/>
<polygon points="1249.5,1122.8 1261.0,1129.4 1261.0,1142.6 1249.5,1149.2 1238.0,1142.6 1238.0,1129.4" fill="#fff" stroke="#000000" stroke-linejoin="miter" stroke-miterlimit="6" stroke-width="9.2"/>
</g>
<g stroke="#000" stroke-width="5.9" fill="none" stroke-linecap="butt">
<rect x="296.1" y="52.7" width="1619.8000000000002" height="1311.1"/>
<path stroke-linecap="round" d="M369.4 1363.8V1352.0M412.3 1363.8V1352.0M442.7 1363.8V1352.0M466.3 1363.8V1352.0M485.6 1363.8V1352.0M501.9 1363.8V1352.0M516.0 1363.8V1352.0M528.4 1363.8V1352.0M539.6 1363.8V1339.0M612.9 1363.8V1352.0M655.7 1363.8V1352.0M686.2 1363.8V1352.0M709.8 1363.8V1352.0M729.0 1363.8V1352.0M745.3 1363.8V1352.0M759.5 1363.8V1352.0M771.9 1363.8V1352.0M783.1 1363.8V1339.0M856.4 1363.8V1352.0M899.2 1363.8V1352.0M929.6 1363.8V1352.0M953.2 1363.8V1352.0M972.5 1363.8V1352.0M988.8 1363.8V1352.0M1002.9 1363.8V1352.0M1015.4 1363.8V1352.0M1026.5 1363.8V1339.0M1099.8 1363.8V1352.0M1142.7 1363.8V1352.0M1173.1 1363.8V1352.0M1196.7 1363.8V1352.0M1216.0 1363.8V1352.0M1232.3 1363.8V1352.0M1246.4 1363.8V1352.0M1258.9 1363.8V1352.0M1270.0 1363.8V1339.0M1343.3 1363.8V1352.0M1386.2 1363.8V1352.0M1416.6 1363.8V1352.0M1440.2 1363.8V1352.0M1459.5 1363.8V1352.0M1475.8 1363.8V1352.0M1489.9 1363.8V1352.0M1502.4 1363.8V1352.0M1513.5 1363.8V1339.0M1586.8 1363.8V1352.0M1629.7 1363.8V1352.0M1660.1 1363.8V1352.0M1683.7 1363.8V1352.0M1703.0 1363.8V1352.0M1719.3 1363.8V1352.0M1733.4 1363.8V1352.0M1745.8 1363.8V1352.0M1757.0 1363.8V1339.0M1830.3 1363.8V1352.0M1873.1 1363.8V1352.0M1903.6 1363.8V1352.0"/>
<path stroke-linecap="round" d="M296.1 1218.1H320.1M296.1 1072.5H308.1M296.1 926.8H320.1M296.1 781.1H308.1M296.1 635.4H320.1M296.1 489.7H308.1M296.1 344.1H320.1M296.1 198.4H308.1"/>
</g>
<g font-family="'Liberation Serif', 'DejaVu Serif', serif" fill="#000" style="font-kerning:none">
<text transform="translate(167.6,77.8) scale(0.985,1)" font-size="83" letter-spacing="-0.07">0.2</text>
<text transform="translate(167.3,369.2) scale(0.985,1)" font-size="83" letter-spacing="-0.64">0.0</text>
<text transform="translate(140.5,660.5) scale(0.985,1)" font-size="83" letter-spacing="-0.09">-0.2</text>
<text transform="translate(140.5,951.9) scale(0.985,1)" font-size="83" letter-spacing="-1.19">-0.4</text>
<text transform="translate(140.5,1243.2) scale(0.985,1)" font-size="83" letter-spacing="-0.78">-0.6</text>
<text transform="translate(237.9,1464.5) scale(0.985,1)" font-size="83" letter-spacing="-3.28">10</text>
<text transform="translate(316.5,1424.8) scale(0.985,1)" font-size="48" letter-spacing="0.49">-9</text>
<text transform="translate(481.4,1464.5) scale(0.985,1)" font-size="83" letter-spacing="-3.28">10</text>
<text transform="translate(560.0,1424.8) scale(0.985,1)" font-size="48" letter-spacing="-0.24">-8</text>
<text transform="translate(724.9,1464.5) scale(0.985,1)" font-size="83" letter-spacing="-3.28">10</text>
<text transform="translate(803.5,1424.8) scale(0.985,1)" font-size="48" letter-spacing="0.50">-7</text>
<text transform="translate(968.4,1464.5) scale(0.985,1)" font-size="83" letter-spacing="-3.28">10</text>
<text transform="translate(1047.0,1424.8) scale(0.985,1)" font-size="48">-6</text>
<text transform="translate(1211.9,1464.5) scale(0.985,1)" font-size="83" letter-spacing="-3.28">10</text>
<text transform="translate(1290.4,1424.8) scale(0.985,1)" font-size="48" letter-spacing="-0.73">-5</text>
<text transform="translate(1455.3,1464.5) scale(0.985,1)" font-size="83" letter-spacing="-3.28">10</text>
<text transform="translate(1533.9,1424.8) scale(0.985,1)" font-size="48" letter-spacing="-0.31">-4</text>
<text transform="translate(1698.8,1464.5) scale(0.985,1)" font-size="83" letter-spacing="-3.28">10</text>
<text transform="translate(1777.4,1424.8) scale(0.985,1)" font-size="48" letter-spacing="-2.36">-3</text>
<text transform="translate(942.1,1563.9) scale(0.96,1)" font-size="89" font-weight="bold" letter-spacing="0.07">i / A cm</text>
<text transform="translate(1227.1,1521.2) scale(0.97,1)" font-size="50" font-weight="bold" letter-spacing="1.83">-2</text>
<text transform="translate(103.0,987.2) rotate(-90) scale(0.955,1)" font-size="88" font-weight="bold" letter-spacing="1.40">E / V (vs. SCE)</text>
<text transform="translate(480.9,138.6) scale(0.985,1)" font-size="78" letter-spacing="-1.36">CLS+Na</text>
<text transform="translate(744.0,164.0) scale(0.985,1)" font-size="48">2</text>
<text transform="translate(765.5,138.6) scale(0.985,1)" font-size="78" letter-spacing="-2.62">MoO</text>
<text transform="translate(922.7,164.0) scale(0.985,1)" font-size="48">4</text>
<text transform="translate(963.0,138.6)" font-size="78">/</text>
<text transform="translate(1001.3,138.6) scale(0.985,1)" font-size="78" letter-spacing="-1.71">ppm</text>
<path d="M333.4 226H498.6" stroke="#000000" stroke-width="14.2" stroke-linecap="round" fill="none"/>
<polygon points="416.0,212.8 427.5,219.4 427.5,232.6 416.0,239.2 404.5,232.6 404.5,219.4" fill="#fff" stroke="#000000" stroke-linejoin="miter" stroke-miterlimit="6" stroke-width="9.2"/>
<path d="M333.4 318.1H498.6" stroke="#ff0000" stroke-width="14.2" stroke-linecap="round" fill="none"/>
<rect x="405.8" y="307.9" width="20.5" height="20.5" fill="#fff" stroke="#ff0000" stroke-linejoin="round" stroke-width="9.5"/>
<path d="M333.4 409.9H498.6" stroke="#0000ff" stroke-width="14.2" stroke-linecap="round" fill="none"/>
<circle cx="416.0" cy="409.9" r="11.8" fill="#fff" stroke="#0000ff" stroke-width="9"/>
<path d="M333.4 502H498.6" stroke="#ff00ff" stroke-width="14.2" stroke-linecap="round" fill="none"/>
<polygon points="416.0,485.0 431.1,511.2 400.9,511.2" fill="#fff" stroke="#ff00ff" stroke-linejoin="round" stroke-width="10"/>
<path d="M333.4 593.9H498.6" stroke="#008000" stroke-width="14.2" stroke-linecap="round" fill="none"/>
<polygon points="416.0,612.1 431.1,585.9 400.9,585.9" fill="#fff" stroke="#008000" stroke-linejoin="round" stroke-width="10"/>
<path d="M333.4 685.8H498.6" stroke="#900000" stroke-width="14.2" stroke-linecap="round" fill="none"/>
<polygon points="416.0,671.5 431.0,686.5 416.0,701.5 401.0,686.5" fill="#fff" stroke="#900000" stroke-linejoin="miter" stroke-miterlimit="6" stroke-width="8.3"/>
<text transform="translate(519.0,252.3) scale(0.98,1)" font-size="77">0</text>
<text transform="translate(517.5,344.3) scale(0.98,1)" font-size="77" letter-spacing="-0.73">200+800</text>
<text transform="translate(519.2,435.6) scale(0.98,1)" font-size="77" letter-spacing="-1.02">400+600</text>
<text transform="translate(518.6,528.0) scale(0.98,1)" font-size="77" letter-spacing="-0.92">600+400</text>
<text transform="translate(520.2,620.0) scale(0.98,1)" font-size="77" letter-spacing="-1.19">800+200</text>
<text transform="translate(521.4,711.5) scale(0.98,1)" font-size="77" letter-spacing="-2.10">1000</text>
</g>
</svg>
</body>
</html>
